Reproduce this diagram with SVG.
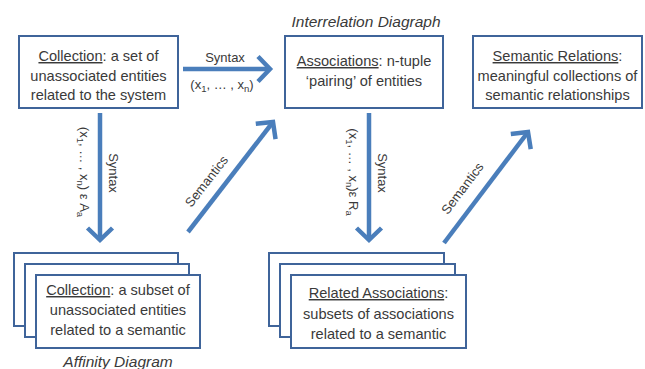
<svg xmlns="http://www.w3.org/2000/svg" width="645" height="369" viewBox="0 0 645 369">
<style>
.box{fill:#fff;stroke:#3F649A;stroke-width:2}
.t{font-family:"Liberation Sans",Arial,sans-serif;font-size:14.6px;fill:#3a3a3a;text-anchor:middle}
.ti{font-family:"Liberation Sans",Arial,sans-serif;font-size:15.5px;font-style:italic;fill:#3a3a3a;text-anchor:middle}
.lb{font-family:"Liberation Sans",Arial,sans-serif;font-size:13px;fill:#3a3a3a;text-anchor:middle}
.u{text-decoration:underline}
.arr{fill:none;stroke:#4A7EBB;stroke-width:4.5}
</style>
<defs>
<marker id="ah" markerUnits="userSpaceOnUse" markerWidth="40" markerHeight="40" refX="0" refY="0" orient="auto" overflow="visible">
<path d="M-12,-12.5 L0,0 L-12,12.5" fill="none" stroke="#4A7EBB" stroke-width="4.5"/>
</marker>
</defs>
<text class="ti" x="366" y="27">Interrelation Diagraph</text>
<text class="ti" x="118" y="367">Affinity Diagram</text>
<g id="collection-top">
<rect class="box" x="19" y="36" width="159" height="72"/>
<text class="t" x="98.5" y="61"><tspan class="u">Collection</tspan>: a set of</text>
<text class="t" x="98.5" y="81">unassociated entities</text>
<text class="t" x="98.5" y="100">related to the system</text>
</g>
<g id="associations">
<rect class="box" x="285" y="36" width="158" height="72"/>
<text class="t" x="364" y="66"><tspan class="u">Associations</tspan>: n-tuple</text>
<text class="t" x="364" y="86">‘pairing’ of entities</text>
</g>
<g id="semantic-relations">
<rect class="box" x="473" y="36" width="169" height="72"/>
<text class="t" x="557.5" y="61"><tspan class="u">Semantic Relations</tspan>:</text>
<text class="t" x="557.5" y="81">meaningful collections of</text>
<text class="t" x="557.5" y="100">semantic relationships</text>
</g>
<g id="collection-subset">
<rect class="box" x="14" y="253" width="164" height="73"/>
<rect class="box" x="25" y="264" width="164" height="73"/>
<rect class="box" x="36" y="275" width="164" height="73"/>
<text class="t" x="118" y="295"><tspan class="u">Collection</tspan>: a subset of</text>
<text class="t" x="118" y="315">unassociated entities</text>
<text class="t" x="118" y="335">related to a semantic</text>
</g>
<g id="related-associations">
<rect class="box" x="269" y="253" width="175" height="73"/>
<rect class="box" x="280" y="264" width="175" height="73"/>
<rect class="box" x="291" y="275" width="175" height="73"/>
<text class="t" x="378.5" y="298"><tspan class="u">Related Associations</tspan>:</text>
<text class="t" x="378.5" y="319">subsets of associations</text>
<text class="t" x="378.5" y="339">related to a semantic</text>
</g>
<g id="connectors">
<line class="arr" x1="183" y1="69" x2="270" y2="69" marker-end="url(#ah)"/>
<text class="lb" x="225" y="62">Syntax</text>
<text class="lb" x="222" y="89">(x<tspan font-size="9.5" dy="3">1</tspan><tspan dy="-3">, … , x</tspan><tspan font-size="9.5" dy="3">n</tspan><tspan dy="-3">)</tspan></text>

<line class="arr" x1="100" y1="113" x2="100" y2="240" marker-end="url(#ah)"/>
<text class="lb" transform="translate(80,172) rotate(90)">(x<tspan font-size="9.5" dy="3">1</tspan><tspan dy="-3">, … , x</tspan><tspan font-size="9.5" dy="3">n</tspan><tspan dy="-3">) ε A</tspan><tspan font-size="9.5" dy="3">a</tspan></text>
<text class="lb" transform="translate(109,173) rotate(90)">Syntax</text>

<line class="arr" x1="188" y1="232" x2="273" y2="122" marker-end="url(#ah)"/>
<text class="lb" transform="translate(210,184) rotate(-52)">Semantics</text>

<line class="arr" x1="369" y1="113" x2="369" y2="240" marker-end="url(#ah)"/>
<text class="lb" transform="translate(349,172) rotate(90)">(x<tspan font-size="9.5" dy="3">1</tspan><tspan dy="-3">, … , x</tspan><tspan font-size="9.5" dy="3">n</tspan><tspan dy="-3">)ε R</tspan><tspan font-size="9.5" dy="3">a</tspan></text>
<text class="lb" transform="translate(378,173) rotate(90)">Syntax</text>

<line class="arr" x1="444" y1="243" x2="528" y2="132" marker-end="url(#ah)"/>
<text class="lb" transform="translate(466,191) rotate(-53)">Semantics</text>
</g>
</svg>
